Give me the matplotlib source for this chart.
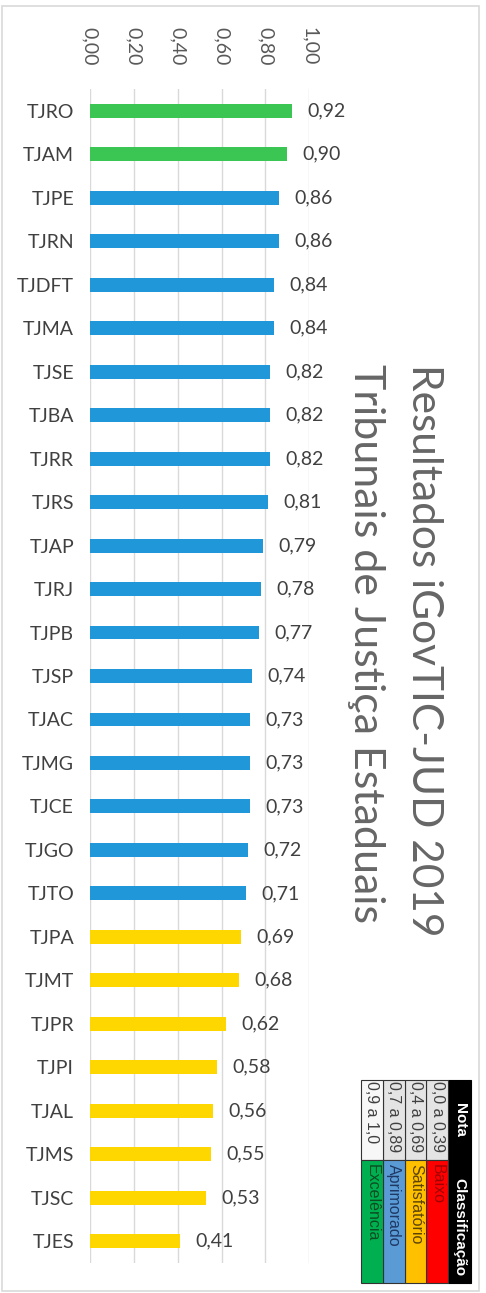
import matplotlib
matplotlib.use("Agg")
import matplotlib.pyplot as plt
from matplotlib.patches import Rectangle

plt.rcParams['font.family'] = ['Lato', 'DejaVu Sans']

# dados
tribunais = ["TJRO", "TJAM", "TJPE", "TJRN", "TJDFT", "TJMA", "TJSE", "TJBA", "TJRR",
             "TJRS", "TJAP", "TJRJ", "TJPB", "TJSP", "TJAC", "TJMG", "TJCE", "TJGO",
             "TJTO", "TJPA", "TJMT", "TJPR", "TJPI", "TJAL", "TJMS", "TJSC", "TJES"]
notas = [0.92, 0.90, 0.86, 0.86, 0.84, 0.84, 0.82, 0.82, 0.82,
         0.81, 0.79, 0.78, 0.77, 0.74, 0.73, 0.73, 0.73, 0.72,
         0.71, 0.69, 0.68, 0.62, 0.58, 0.56, 0.55, 0.53, 0.41]
ticks = [0.0, 0.2, 0.4, 0.6, 0.8, 1.0]

# legenda (tabela)
faixas = ["0,0 a 0,39", "0,4 a 0,69", "0,7 a 0,89", "0,9 a 1,0"]
classes = ["Baixo", "Satisfatório", "Aprimorado", "Excelência"]
cor_classe = ["#FF0000", "#FFC000", "#5B9BD5", "#00B050"]
cor_texto_classe = ["#A00000", "#5C4300", "#1F3864", "#0B4D22"]

def cor_barra(v):
    if v >= 0.9:
        return "#3BC553"
    elif v >= 0.7:
        return "#1F97D9"
    return "#FFD700"

W, H = 486, 1293
fig = plt.figure(figsize=(W/100, H/100), dpi=100)

# fundo / moldura / titulo / tabela em coordenadas de pixel
bg = fig.add_axes([0, 0, 1, 1])
bg.set_xlim(0, W)
bg.set_ylim(H, 0)
bg.axis("off")
bg.add_patch(Rectangle((2, 6), 477, 1285, fill=False, edgecolor="#D9D9D9", lw=1.2))

bg.text(424, 364, "Resultados iGovTIC-JUD 2019", rotation=-90, ha="center", va="top",
        fontsize=30.5, color="#666666")
bg.text(366, 364, "Tribunais de Justiça Estaduais", rotation=-90, ha="center", va="top",
        fontsize=31, color="#666666")

# tabela rotacionada
x_hdr, w_hdr = 448, 23
w_row = 21.75
y_nota, y_cls, y_fim = 1080, 1160, 1283
bg.add_patch(Rectangle((x_hdr, y_nota), w_hdr, y_fim - y_nota, facecolor="black",
                       edgecolor="black", lw=0.8))
bg.text(x_hdr + w_hdr/2, (y_nota + y_cls)/2, "Nota", rotation=-90, ha="center", va="center",
        fontsize=11, fontweight="bold", color="white", family="Liberation Sans")
bg.text(x_hdr + w_hdr/2, (y_cls + y_fim)/2 + 6, "Classificação", rotation=-90, ha="center",
        va="center", fontsize=11, fontweight="bold", color="white", family="Liberation Sans")
for i in range(len(faixas)):
    x0 = x_hdr - (i + 1) * w_row
    fc = "#F7F7F7" if i == len(faixas) - 1 else "#E4E4E4"
    bg.add_patch(Rectangle((x0, y_nota), w_row, y_cls - y_nota, facecolor=fc,
                           edgecolor="#333333", lw=0.8))
    bg.add_patch(Rectangle((x0, y_cls), w_row, y_fim - y_cls, facecolor=cor_classe[i],
                           edgecolor="#333333", lw=0.8))
    bg.text(x0 + w_row/2, y_nota + 1, faixas[i], rotation=-90, ha="center", va="top",
            fontsize=11.5, color="#404040", family="Liberation Sans")
    bg.text(x0 + w_row/2, y_cls + 4, classes[i], rotation=-90, ha="center", va="top",
            fontsize=11.5, color=cor_texto_classe[i], family="Liberation Sans")

# grafico de barras
ax = fig.add_axes([90/W, (H - 1263)/H, (309.3 - 90)/W, (1263 - 89)/H])
ax.set_zorder(2)
ax.patch.set_alpha(0)
y = list(range(len(tribunais)))
ax.barh(y, notas, height=0.32, color=[cor_barra(v) for v in notas], zorder=3)
ax.set_xlim(0, 1.0)
ax.set_ylim(len(tribunais) - 0.5, -0.5)
ax.set_xticks(ticks)
ax.set_xticklabels([f"{t:.2f}".replace(".", ",") for t in ticks], rotation=-90)
ax.xaxis.tick_top()
ax.tick_params(axis="x", length=0, pad=17, labelsize=14, labelcolor="#595959")
ax.set_yticks(y)
ax.set_yticklabels(tribunais)
ax.tick_params(axis="y", length=0, pad=11.5, labelsize=14, labelcolor="#404040")
ax.grid(axis="x", color="#D9D9D9", lw=1.0, zorder=0)
for s in ax.spines.values():
    s.set_visible(False)

for i, v in enumerate(notas):
    ax.annotate(f"{v:.2f}".replace(".", ","), (v, i), xytext=(11, 0),
                textcoords="offset points", ha="left", va="center",
                fontsize=14, color="#404040")

fig.savefig("out.png", dpi=100)
